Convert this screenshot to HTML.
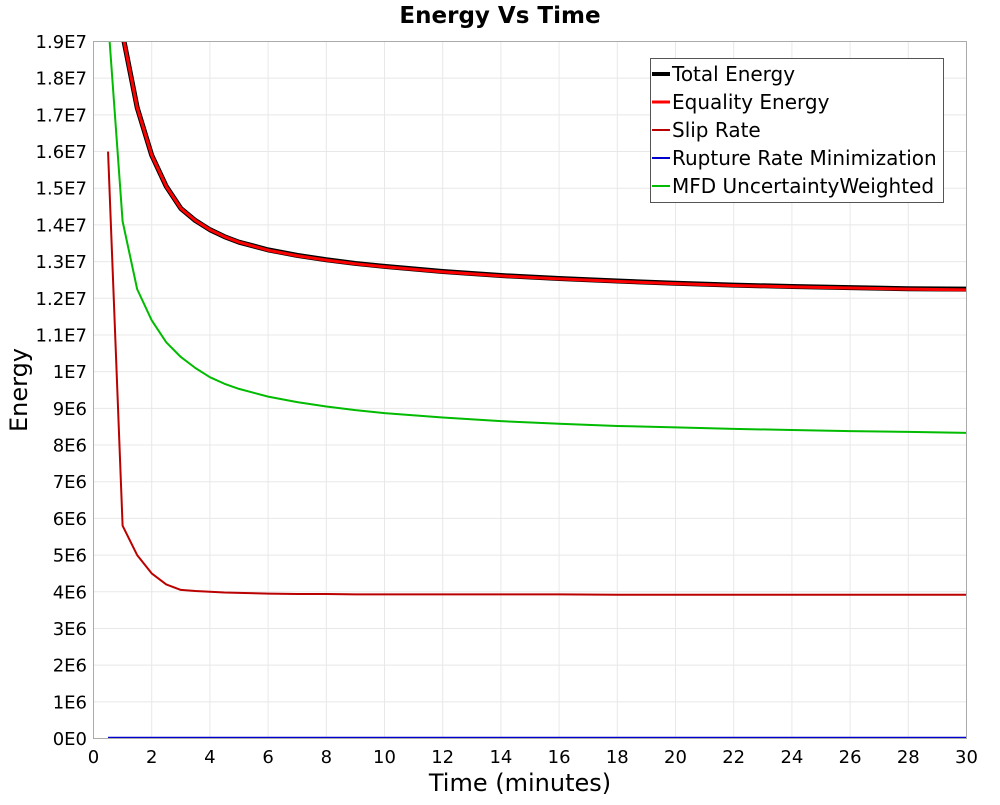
<!DOCTYPE html>
<html><head><meta charset="utf-8"><style>
body{margin:0;background:#fff;}
svg{font-family:"DejaVu Sans","Liberation Sans",sans-serif;}
</style></head><body>
<svg id="chart" width="1000" height="800" viewBox="0 0 1000 800">
<defs><clipPath id="clip"><rect x="93.5" y="41.5" width="873" height="697"/></clipPath></defs>
<text x="500" y="23" text-anchor="middle" font-size="23" font-weight="bold">Energy Vs Time</text>
<g id="grid"></g>
<g id="yticks"></g>
<g id="xticks"></g>
<g id="series" clip-path="url(#clip)"></g>
<rect x="93.5" y="41.5" width="873" height="697" fill="none" stroke="#aaa"/>
<text x="520" y="791" text-anchor="middle" font-size="24">Time (minutes)</text>
<text transform="translate(27,390) rotate(-90)" text-anchor="middle" font-size="24">Energy</text>
<g>
<rect x="650.5" y="58.5" width="293" height="144" fill="#fff" stroke="#555"/>
<g id="legend-items"></g>
</g>
</svg>
<script>
const timesMain=[0.5,1,1.5,2,2.5,3,3.5,4,4.5,5,6,7,8,9,10,12,14,16,18,20,22,24,26,28,30];
const totalEnergy=[32,19.2,17.2,15.9,15.05,14.45,14.12,13.87,13.68,13.53,13.32,13.17,13.05,12.95,12.87,12.73,12.62,12.54,12.47,12.41,12.36,12.32,12.29,12.26,12.25];
const equalityEnergy=[32,19.2,17.2,15.9,15.05,14.45,14.12,13.87,13.68,13.53,13.31,13.16,13.04,12.94,12.86,12.72,12.61,12.53,12.46,12.4,12.35,12.31,12.28,12.25,12.23];
const slipRate=[16,5.8,5.0,4.5,4.2,4.05,4.02,4.0,3.98,3.97,3.95,3.94,3.94,3.93,3.93,3.93,3.93,3.93,3.92,3.92,3.92,3.92,3.92,3.92,3.92];
const ruptureRate=[0.02,0.02,0.02,0.02,0.02,0.02,0.02,0.02,0.02,0.02,0.02,0.02,0.02,0.02,0.02,0.02,0.02,0.02,0.02,0.02,0.02,0.02,0.02,0.02,0.02];
const mfd=[19.6,14.1,12.25,11.4,10.8,10.4,10.1,9.85,9.67,9.53,9.32,9.17,9.05,8.95,8.87,8.75,8.65,8.58,8.52,8.48,8.44,8.41,8.38,8.36,8.33];
const yTickLabels=["0E0","1E6","2E6","3E6","4E6","5E6","6E6","7E6","8E6","9E6","1E7","1.1E7","1.2E7","1.3E7","1.4E7","1.5E7","1.6E7","1.7E7","1.8E7","1.9E7"];
const xTickValues=[0,2,4,6,8,10,12,14,16,18,20,22,24,26,28,30];
const NS="http://www.w3.org/2000/svg";
const X0=93.5,X1=966.5,Y0=738.5,Y1=41.5;
function xs(t){return X0+(t/30)*(X1-X0);}
function ys(v){return Y0-(v/19)*(Y0-Y1);}
function mk(tag,attrs,parent){const e=document.createElementNS(NS,tag);for(const k in attrs)e.setAttribute(k,attrs[k]);parent.appendChild(e);return e;}
const grid=document.getElementById('grid'),yt=document.getElementById('yticks'),xt=document.getElementById('xticks');
yTickLabels.forEach((lab,i)=>{
  const y=ys(i);
  const g=mk('line',{x1:X0,x2:X1,y1:y,y2:y,stroke:'#e8e8e8'},grid);
  
  
  const t=mk('text',{x:87,y:y+6.5,'text-anchor':'end','font-size':18},yt);
  t.textContent=lab;
  
  
});
xTickValues.forEach(v=>{
  const x=xs(v);
  const g=mk('line',{x1:x,x2:x,y1:Y1,y2:Y0,stroke:'#e8e8e8'},grid);
  
  
  const t=mk('text',{x:x,y:763,'text-anchor':'middle','font-size':18},xt);
  t.textContent=String(v);
  
  
});
const seriesG=document.getElementById('series');
function line(vals,color,w,name){
  const p=mk('polyline',{points:vals.map((v,i)=>xs(timesMain[i])+','+ys(v)).join(' '),fill:'none',stroke:color,'stroke-width':w,'stroke-linejoin':'round'},seriesG);
  
  
}
line(ruptureRate,'#0000cc',2,'rupture-rate-line');
line(mfd,'#00bb00',2,'mfd-line');
line(slipRate,'#bb0000',2,'slip-rate-line');
line(totalEnergy,'#000',5,'total-energy-line');
line(equalityEnergy,'#ff0000',3,'equality-energy-line');
const legendNames=["Total Energy","Equality Energy","Slip Rate","Rupture Rate Minimization","MFD UncertaintyWeighted"];
const legendColors=['#000','#ff0000','#bb0000','#0000cc','#00bb00'];
const legendWidths=[4,3,2,2,2];
const li=document.getElementById('legend-items');
legendNames.forEach((n,i)=>{
  const y=74+i*28;
  const g=mk('g',{},li);
  
  
  mk('line',{x1:652,x2:670,y1:y,y2:y,stroke:legendColors[i],'stroke-width':legendWidths[i]},g);
  const t=mk('text',{x:672,y:y+7,'font-size':20,textLength:null},g);
  t.removeAttribute('textLength');
  t.textContent=n;
});
</script>
</body></html>
